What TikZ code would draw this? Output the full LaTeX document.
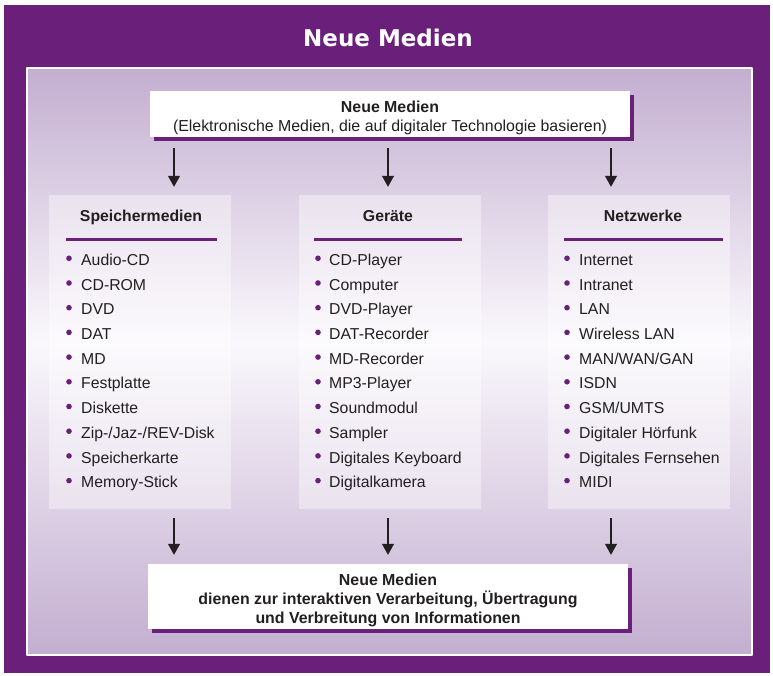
\documentclass[tikz,border=0pt]{standalone}
\usepackage{fontspec}
\setmainfont{Liberation Sans}
\newfontfamily\headfont{DejaVu Sans}
\usetikzlibrary{arrows.meta,shadows}
\definecolor{medienlila}{RGB}{106,31,123}
\definecolor{lilahell}{RGB}{195,174,208}
\definecolor{lilaweiss}{RGB}{250,248,252}
\definecolor{schrift}{RGB}{35,31,32}
\begin{document}
\begin{tikzpicture}[>={Triangle[width=12bp,length=11bp]},line join=bevel,
  every node/.style={text=schrift},
  textbox/.style={fill=white,inner sep=0pt,minimum width=480bp,
    drop shadow={shadow xshift=4bp,shadow yshift=-4bp,fill=medienlila,opacity=1}},
  boxtext/.style={inner sep=0pt,align=center,font=\fontsize{15.9bp}{19bp}\selectfont},
  spalte/.style={fill=white,fill opacity=0.4,inner sep=0pt,minimum width=182bp,minimum height=314bp},
  kopf/.style={anchor=base,inner sep=0pt,font=\fontsize{15.8bp}{19bp}\selectfont\bfseries},
  eintrag/.style={anchor=base west,inner sep=0pt,font=\fontsize{15.8bp}{19bp}\selectfont},
  linie/.style={medienlila,line width=3bp},
  pfeil/.style={schrift,line width=1.1bp,->}]
\useasboundingbox (0bp,0bp) rectangle (773bp,676bp);
%% rahmen und hintergrund
\fill[medienlila] (4bp,3bp) rectangle (770bp,671bp);
\shade[top color=lilahell,bottom color=lilaweiss] (28bp,334bp) rectangle (751bp,607bp);
\shade[top color=lilaweiss,bottom color=lilahell] (28bp,22bp) rectangle (751bp,334bp);
\draw[white,line width=2bp] (27bp,21bp) rectangle (752bp,608bp);
\node (node_titel) at (388bp,638bp) [text=white,font=\headfont\bfseries\fontsize{23bp}{27bp}\selectfont] {Neue Medien};
%
\node (node_top) at (390bp,562bp) [textbox,minimum height=46bp] {};
\node (node_top_text) at (390bp,558bp) [boxtext] {\textbf{Neue Medien}\\(Elektronische Medien, die auf digitaler Technologie basieren)};
\node (node_bottom) at (388bp,79.5bp) [textbox,minimum height=65bp] {};
\node (node_bottom_text) at (388bp,76bp) [boxtext,font=\fontsize{15.9bp}{19bp}\selectfont\bfseries] {Neue Medien\\dienen zur interaktiven Verarbeitung, Übertragung\\und Verbreitung von Informationen};
%% drei spalten
\node (node_speicher) at (140bp,324bp) [spalte] {};
\node (node_geraete) at (390bp,324bp) [spalte] {};
\node (node_netz) at (639bp,324bp) [spalte] {};
\node (node_speicher_kopf) at (141bp,454.5bp) [kopf] {Speichermedien};
\node (node_geraete_kopf) at (388bp,454.5bp) [kopf] {Geräte};
\node (node_netz_kopf) at (643bp,454.5bp) [kopf] {Netzwerke};
\draw[linie] (66bp,436bp) -- (217bp,436bp);
\draw[linie] (314bp,436bp) -- (462bp,436bp);
\draw[linie] (564bp,436bp) -- (723bp,436bp);
%
\foreach \txt [count=\i from 0] in {Audio-CD,CD-ROM,DVD,DAT,MD,Festplatte,Diskette,Zip-/Jaz-/REV-Disk,Speicherkarte,Memory-Stick} {
  \fill[medienlila] (69bp,417.7bp-24.7bp*\i) circle (2.8bp);
  \node (node_s\i) at (81bp,410.5bp-24.7bp*\i) [eintrag] {\txt};
}
\foreach \txt [count=\i from 0] in {CD-Player,Computer,DVD-Player,DAT-Recorder,MD-Recorder,MP3-Player,Soundmodul,Sampler,Digitales Keyboard,Digitalkamera} {
  \fill[medienlila] (318bp,417.7bp-24.7bp*\i) circle (2.8bp);
  \node (node_g\i) at (329bp,410.5bp-24.7bp*\i) [eintrag] {\txt};
}
\foreach \txt [count=\i from 0] in {Internet,Intranet,LAN,Wireless LAN,MAN/WAN/GAN,ISDN,GSM/UMTS,Digitaler Hörfunk,Digitales Fernsehen,MIDI} {
  \fill[medienlila] (567bp,417.7bp-24.7bp*\i) circle (2.8bp);
  \node (node_n\i) at (579bp,410.5bp-24.7bp*\i) [eintrag] {\txt};
}
%% pfeile
\foreach \x/\ziel in {174/node_speicher,388/node_geraete,611/node_netz} {
  \draw[pfeil,shorten <=11bp,shorten >=8bp] (\x bp,0 |- node_top.south) -- (\x bp,0 |- \ziel.north);
  \draw[pfeil,shorten <=9bp,shorten >=9bp] (\x bp,0 |- \ziel.south) -- (\x bp,0 |- node_bottom.north);
}
%
\end{tikzpicture}
\end{document}
